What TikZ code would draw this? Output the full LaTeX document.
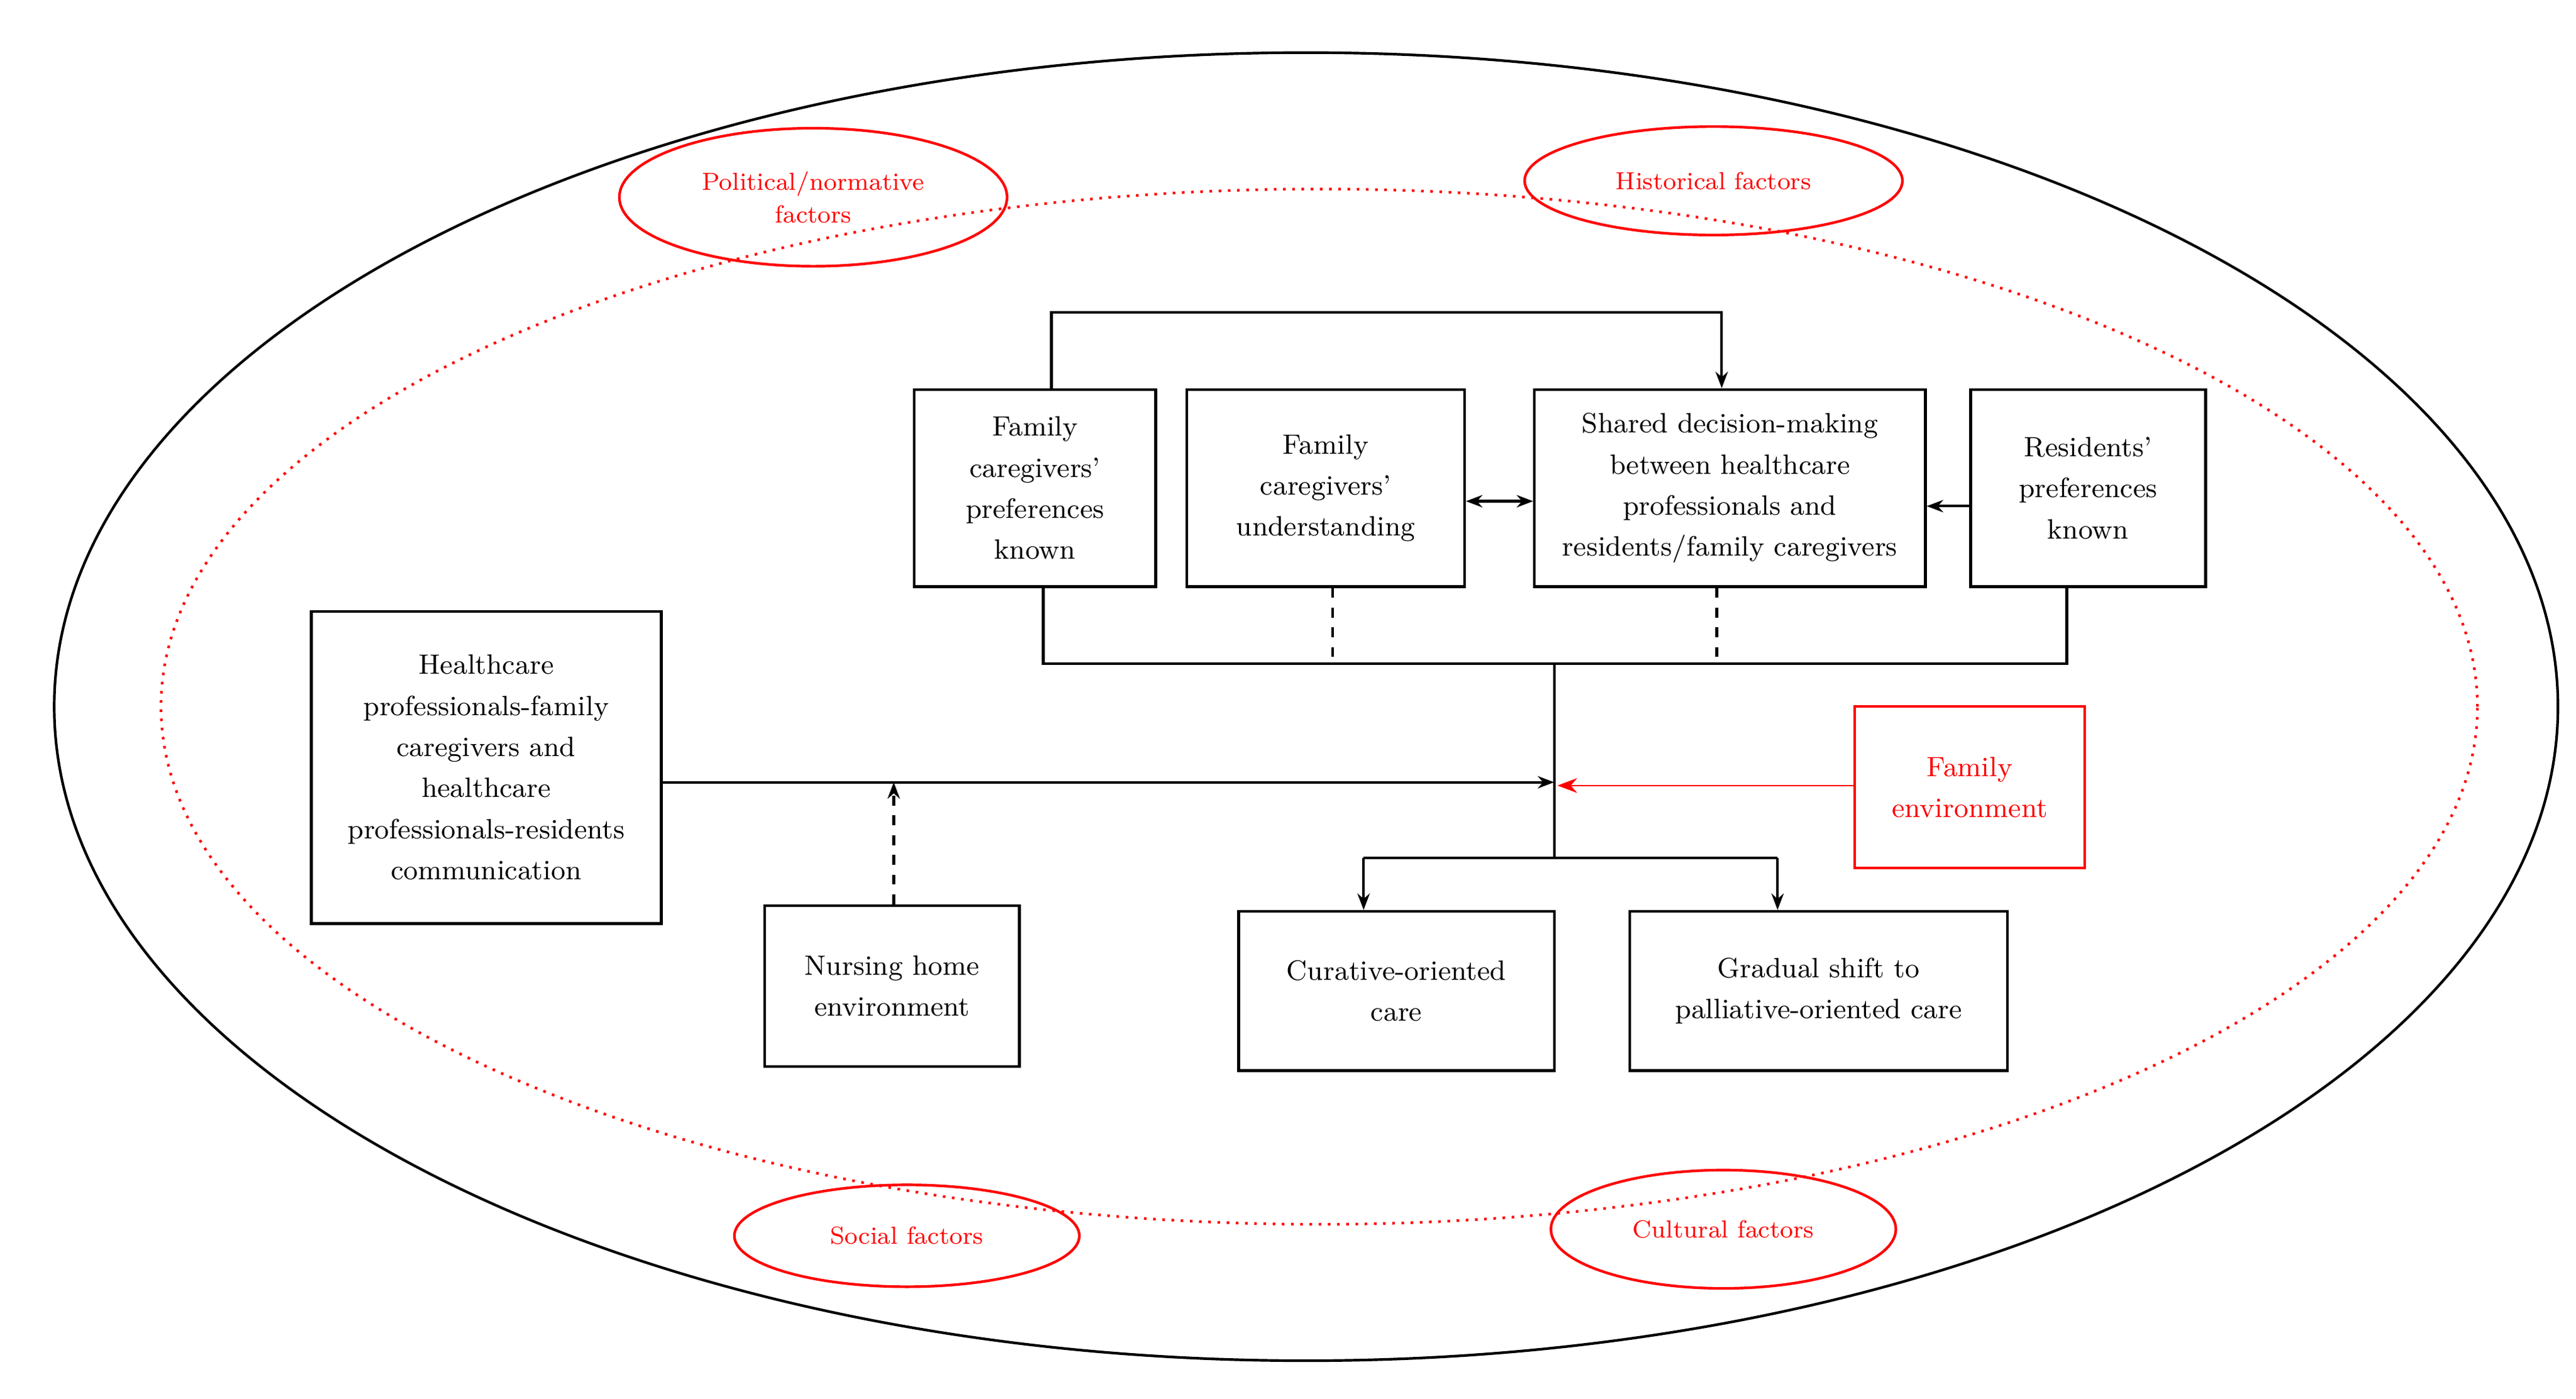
\documentclass[tikz,border=0pt]{standalone}
\usetikzlibrary{arrows.meta,shapes.geometric}
\begin{document}
\begin{tikzpicture}[x=0.5pt,y=-0.5pt,
 box/.style={draw,thick,align=center,font=\fontsize{8.5}{12.5}\selectfont,inner sep=0pt},
 redbox/.style={box,draw=red,text=red},
 fac/.style={draw=red,thick,ellipse,text=red,align=center,font=\fontsize{7.5}{10}\selectfont},
 ar/.style={-{Stealth[length=5pt]},thick}]
\useasboundingbox (0,0) rectangle (1568,851);
\node[draw,thick,ellipse,minimum width=1524*0.5pt,minimum height=796*0.5pt] (outer) at (795,430) {};
\node[draw=red,thick,dotted,ellipse,minimum width=1410*0.5pt,minimum height=630*0.5pt] (inner) at (803,430) {};
\node[fac,minimum width=236*0.5pt,minimum height=84*0.5pt,inner sep=0pt] (pol) at (495,120) {Political/normative\\factors};
\node[fac,minimum width=230*0.5pt,minimum height=66*0.5pt,inner sep=0pt] (his) at (1043,110) {Historical factors};
\node[fac,minimum width=210*0.5pt,minimum height=62*0.5pt,inner sep=0pt] (soc) at (552,752) {Social factors};
\node[fac,minimum width=210*0.5pt,minimum height=72*0.5pt,inner sep=0pt] (cul) at (1049,748) {Cultural factors};
\node[box,minimum width=147*0.5pt,minimum height=120*0.5pt] (fcp) at (630,297) {Family\\caregivers'\\preferences\\known};
\node[box,minimum width=169*0.5pt,minimum height=120*0.5pt] (fcu) at (807,297) {Family\\caregivers'\\understanding};
\node[box,minimum width=238*0.5pt,minimum height=120*0.5pt] (sdm) at (1053,297) {Shared decision-making\\between healthcare\\professionals and\\residents/family caregivers};
\node[box,minimum width=143*0.5pt,minimum height=120*0.5pt] (rp) at (1271,297) {Residents'\\preferences\\known};
\node[box,minimum width=213*0.5pt,minimum height=190*0.5pt] (hc) at (296,467) {Healthcare\\professionals-family\\caregivers and\\healthcare\\professionals-residents\\communication};
\node[box,minimum width=155*0.5pt,minimum height=98*0.5pt] (nh) at (543,600) {Nursing home\\environment};
\node[box,minimum width=192*0.5pt,minimum height=97*0.5pt] (cur) at (850,603) {Curative-oriented\\care};
\node[box,minimum width=230*0.5pt,minimum height=97*0.5pt] (grad) at (1107,603) {Gradual shift to\\palliative-oriented care};
\node[redbox,minimum width=140*0.5pt,minimum height=98*0.5pt] (fe) at (1199,479) {Family\\environment};
\coordinate (hub) at (946,476);
\coordinate (top) at (946,404);
\coordinate (bot) at (946,522);
\draw[ar] (fcp.north -| 640,0) -- (640,190) -- (1048,190) -- (sdm.north -| 1048,0);
\draw[{Stealth[length=5pt]}-{Stealth[length=5pt]},thick] (fcu.east |- 0,305) -- (sdm.west |- 0,305);
\draw[ar] (rp.west |- 0,308) -- (sdm.east |- 0,308);
\draw[thick] (fcp.south -| 635,0) -- (635,404) -- (1258,404) -- (rp.south -| 1258,0);
\draw[thick,dashed] (fcu.south -| 811,0) -- (811,404);
\draw[thick,dashed] (sdm.south -| 1045,0) -- (1045,404);
\draw[thick] (top) -- (bot);
\draw[ar] (hc.east |- hub) -- (hub);
\draw[ar,dashed] (nh.north -| 544,0) -- (544,476);
\draw[-{Stealth[length=6pt]},red] (fe.west |- 0,478) -- (948,478);
\draw[thick] (830,522) -- (1082,522);
\draw[ar] (830,522) -- (cur.north -| 830,0);
\draw[ar] (1082,522) -- (grad.north -| 1082,0);
\end{tikzpicture}
\end{document}
